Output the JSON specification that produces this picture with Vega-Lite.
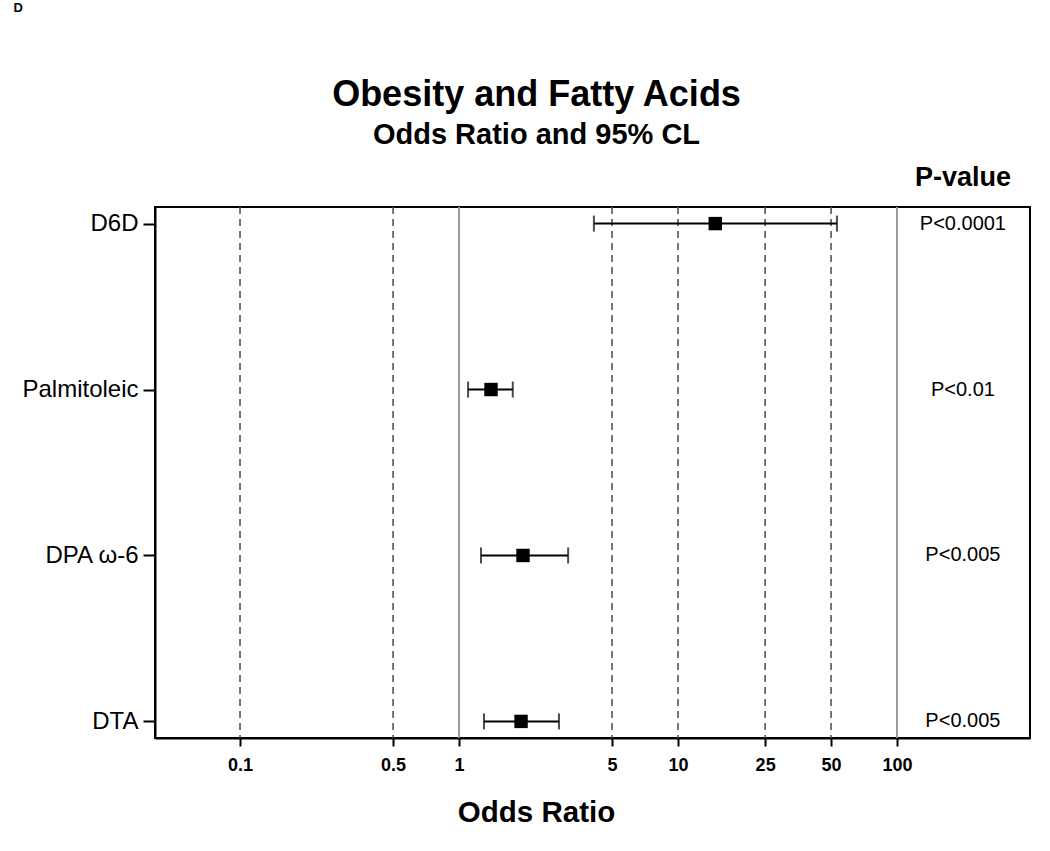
{
  "$schema": "https://vega.github.io/schema/vega-lite/v6.json",
  "width": 875,
  "height": 531,
  "autosize": "none",
  "padding": {"left": 155, "top": 207, "right": 20, "bottom": 113},
  "background": "white",
  "title": {
    "text": "Obesity and Fatty Acids",
    "subtitle": "Odds Ratio and 95% CL",
    "font": "Liberation Sans",
    "fontSize": 36,
    "fontWeight": "bold",
    "color": "black",
    "subtitleFont": "Liberation Sans",
    "subtitleFontSize": 29,
    "subtitleFontWeight": "bold",
    "subtitleColor": "black",
    "subtitlePadding": 7,
    "anchor": "middle",
    "frame": "group",
    "dx": -56,
    "offset": -150
  },
  "config": {
    "view": {"stroke": "black", "strokeWidth": 2},
    "font": "Liberation Sans",
    "axisX": {
      "grid": false,
      "labelFont": "Liberation Sans",
      "labelFontSize": 18,
      "labelFontWeight": "bold",
      "labelColor": "black",
      "labelPadding": 10,
      "labelFlush": false,
      "tickSize": 8,
      "tickWidth": 2,
      "tickColor": "black",
      "domainColor": "black",
      "domainWidth": 2,
      "titleFont": "Liberation Sans",
      "titleFontSize": 29.5,
      "titleFontWeight": "bold",
      "titleColor": "black",
      "titlePadding": 24,
      "titleX": 381
    },
    "axisY": {
      "grid": false,
      "labelFont": "Liberation Sans",
      "labelFontSize": 24,
      "labelColor": "black",
      "labelPadding": 5,
      "tickSize": 12,
      "tickWidth": 2,
      "tickColor": "black",
      "domainColor": "black",
      "domainWidth": 2,
      "titleAngle": 0,
      "titleX": -142,
      "titleY": -196,
      "titleAlign": "left",
      "titleBaseline": "alphabetic",
      "titleFont": "Liberation Sans",
      "titleFontSize": 13,
      "titleFontWeight": "bold",
      "titleColor": "black"
    }
  },
  "datasets": {
    "est": [
      {"marker": "D6D", "or": 14.8, "lo": 4.13, "hi": 53.2, "p": "P<0.0001"},
      {"marker": "Palmitoleic", "or": 1.40, "lo": 1.10, "hi": 1.76, "p": "P<0.01"},
      {"marker": "DPA ω-6", "or": 1.96, "lo": 1.26, "hi": 3.15, "p": "P<0.005"},
      {"marker": "DTA", "or": 1.92, "lo": 1.30, "hi": 2.86, "p": "P<0.005"}
    ],
    "ref": [
      {"v": 0.1, "kind": "dashed"},
      {"v": 0.5, "kind": "dashed"},
      {"v": 1, "kind": "solid"},
      {"v": 5, "kind": "dashed"},
      {"v": 10, "kind": "dashed"},
      {"v": 25, "kind": "dashed"},
      {"v": 50, "kind": "dashed"},
      {"v": 100, "kind": "solid"}
    ]
  },
  "layer": [
    {
      "data": {"name": "ref"},
      "transform": [{"filter": "datum.kind == 'dashed'"}],
      "mark": {"type": "rule", "color": "#555555", "strokeWidth": 1.6, "strokeDash": [7, 5]},
      "encoding": {
        "x": {
          "field": "v",
          "type": "quantitative",
          "title": "Odds Ratio",
          "scale": {"type": "log", "domain": [0.0409, 405], "nice": false, "zero": false},
          "axis": {"values": [0.1, 0.5, 1, 5, 10, 25, 50, 100], "format": "~g"}
        }
      }
    },
    {
      "data": {"name": "ref"},
      "transform": [{"filter": "datum.kind == 'solid'"}],
      "mark": {"type": "rule", "color": "#9a9a9a", "strokeWidth": 2},
      "encoding": {
        "x": {"field": "v", "type": "quantitative", "title": "Odds Ratio", "axis": {"values": [0.1, 0.5, 1, 5, 10, 25, 50, 100], "format": "~g"}}
      }
    },
    {
      "data": {"name": "est"},
      "mark": {"type": "rule", "color": "black", "strokeWidth": 2},
      "encoding": {
        "x": {"field": "lo", "type": "quantitative", "title": "Odds Ratio", "axis": {"values": [0.1, 0.5, 1, 5, 10, 25, 50, 100], "format": "~g"}},
        "x2": {"field": "hi"},
        "y": {"field": "marker", "type": "nominal", "title": "D", "sort": ["D6D", "Palmitoleic", "DPA ω-6", "DTA"], "scale": {"type": "point", "padding": 0.1}}
      }
    },
    {
      "data": {"name": "est"},
      "mark": {"type": "tick", "orient": "vertical", "color": "black", "size": 16, "thickness": 2},
      "encoding": {
        "x": {"field": "lo", "type": "quantitative", "title": "Odds Ratio", "axis": {"values": [0.1, 0.5, 1, 5, 10, 25, 50, 100], "format": "~g"}},
        "y": {"field": "marker", "type": "nominal", "title": "D", "sort": ["D6D", "Palmitoleic", "DPA ω-6", "DTA"]}
      }
    },
    {
      "data": {"name": "est"},
      "mark": {"type": "tick", "orient": "vertical", "color": "black", "size": 16, "thickness": 2},
      "encoding": {
        "x": {"field": "hi", "type": "quantitative", "title": "Odds Ratio", "axis": {"values": [0.1, 0.5, 1, 5, 10, 25, 50, 100], "format": "~g"}},
        "y": {"field": "marker", "type": "nominal", "title": "D", "sort": ["D6D", "Palmitoleic", "DPA ω-6", "DTA"]}
      }
    },
    {
      "data": {"name": "est"},
      "mark": {"type": "point", "shape": "square", "filled": true, "color": "black", "size": 180, "opacity": 1},
      "encoding": {
        "x": {"field": "or", "type": "quantitative", "title": "Odds Ratio", "axis": {"values": [0.1, 0.5, 1, 5, 10, 25, 50, 100], "format": "~g"}},
        "y": {"field": "marker", "type": "nominal", "title": "D", "sort": ["D6D", "Palmitoleic", "DPA ω-6", "DTA"]}
      }
    },
    {
      "data": {"name": "est"},
      "mark": {"type": "text", "font": "Liberation Sans", "fontSize": 20, "color": "black", "align": "center", "baseline": "middle"},
      "encoding": {
        "x": {"datum": 200, "type": "quantitative", "title": "Odds Ratio", "axis": {"values": [0.1, 0.5, 1, 5, 10, 25, 50, 100], "format": "~g"}},
        "y": {"field": "marker", "type": "nominal", "title": "D", "sort": ["D6D", "Palmitoleic", "DPA ω-6", "DTA"]},
        "text": {"field": "p"}
      }
    },
    {
      "data": {"name": "est"},
      "transform": [{"filter": "datum.marker == 'D6D'"}],
      "mark": {"type": "text", "font": "Liberation Sans", "fontSize": 27, "fontWeight": "bold", "color": "black", "align": "center", "baseline": "alphabetic", "dy": -38},
      "encoding": {
        "x": {"datum": 200, "type": "quantitative", "title": "Odds Ratio", "axis": {"values": [0.1, 0.5, 1, 5, 10, 25, 50, 100], "format": "~g"}},
        "y": {"field": "marker", "type": "nominal", "title": "D", "sort": ["D6D", "Palmitoleic", "DPA ω-6", "DTA"]},
        "text": {"value": "P-value"}
      }
    }
  ]
}
